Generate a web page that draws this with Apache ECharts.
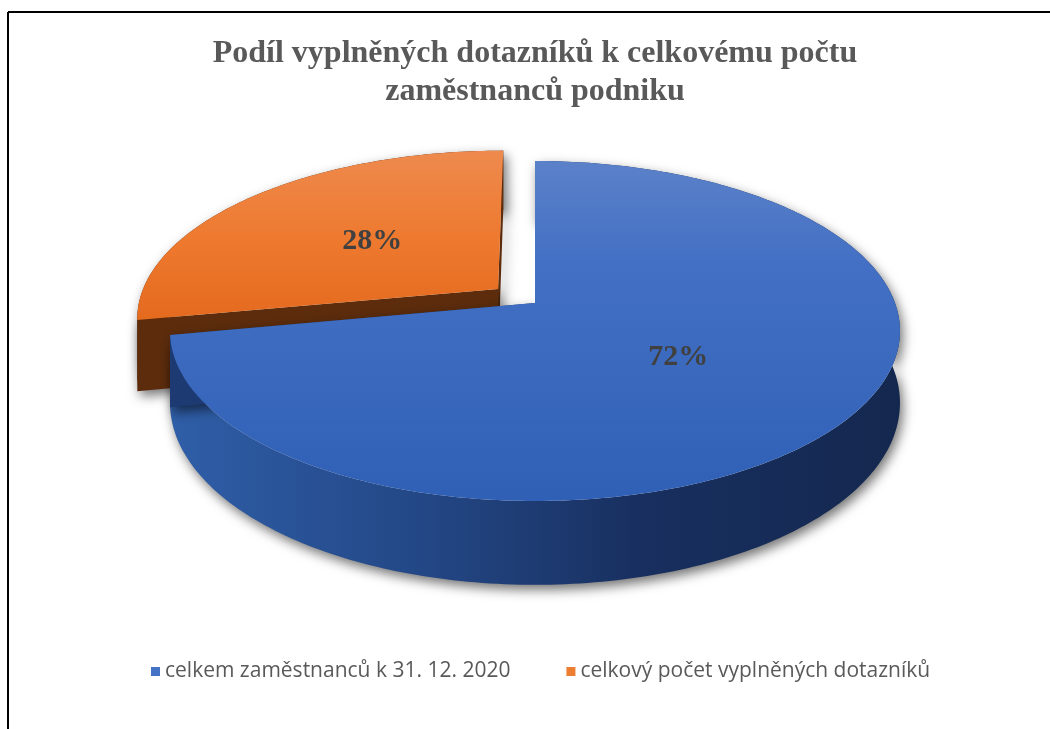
<!DOCTYPE html>
<html>
<head>
<meta charset="utf-8">
<script src="https://cdn.jsdelivr.net/npm/echarts@6/dist/echarts.min.js"></script>
<style>
  html, body { margin: 0; padding: 0; background: #ffffff; }
  #chart { width: 1050px; height: 729px; }
</style>
</head>
<body>
<div id="chart"></div>
<script>
// Categories and their shares (percent of the whole)
const categories = ['celkem zaměstnanců k 31. 12. 2020', 'celkový počet vyplněných dotazníků'];
const shares = [72, 28];
const titleLines = ['Podíl vyplněných dotazníků k celkovému počtu', 'zaměstnanců podniku'];

// Perspective view of the pie disc (unit circle on a tilted plane)
const VIEW = { cx: 535, cy: 303, a: 360, b: 165.4, k: 0.1647, h: 70 };
// How far each slice is pulled out of the pie (in disc radii)
const EXPLODE = [0, 0.135];

const PALETTE = [
  {
    legend: '#4472c4',
    top: [[0, '#5b81c9'], [0.3, '#4370c4'], [1, '#2f60b6']],
    wall: [[0, '#2f5ea8'], [0.35, '#234785'], [0.65, '#182f5f'], [1, '#14284f']],
    cut: '#1d3b72'
  },
  {
    legend: '#ed7d31',
    top: [[0, '#ee8a4e'], [0.5, '#ee7a30'], [1, '#e46a1e']],
    wall: [[0, '#5c2c0c'], [1, '#5c2c0c']],
    cut: '#5c2c0c'
  }
];

const total = shares.reduce((s, v) => s + v, 0);
const starts = shares.map((v, i) => shares.slice(0, i).reduce((s, x) => s + x, 0));

function project(u, v, drop) {
  const d = 1 + VIEW.k * v;
  return [VIEW.cx + VIEW.a * u / d, VIEW.cy + (-VIEW.b * v + drop) / d];
}

function grad(stops, horizontal) {
  return new echarts.graphic.LinearGradient(0, 0, horizontal ? 1 : 0, horizontal ? 0 : 1,
    stops.map(s => ({ offset: s[0], color: s[1] })));
}

const shadow = { shadowBlur: 12, shadowColor: 'rgba(0,0,0,0.55)', shadowOffsetX: 3, shadowOffsetY: 5 };

function renderSlice(params, api) {
  const idx = params.seriesIndex;
  const pal = PALETTE[idx];
  const value = api.value(0);
  const start = api.value(1);
  const t1 = start / total * 360;
  const t2 = (start + value) / total * 360;
  const mid = (t1 + t2) / 2 * Math.PI / 180;
  const ex = EXPLODE[idx];
  const ou = ex * Math.sin(mid), ov = ex * Math.cos(mid);
  const rim = (deg, drop) => {
    const r = deg * Math.PI / 180;
    return project(ou + Math.sin(r), ov + Math.cos(r), drop);
  };
  const arcTop = [], arcBot = [];
  for (let d = t1; d < t2; d += 1) { arcTop.push(rim(d, 0)); arcBot.push(rim(d, VIEW.h)); }
  arcTop.push(rim(t2, 0)); arcBot.push(rim(t2, VIEW.h));
  const apexTop = project(ou, ov, 0);
  const apexBot = project(ou, ov, VIEW.h);
  const n = arcTop.length - 1;

  const lr = 0.49;
  const labelPos = project(ou + lr * Math.sin(mid), ov + lr * Math.cos(mid), 0);

  return {
    type: 'group',
    children: [
      { type: 'polygon', shape: { points: arcTop.concat(arcBot.slice().reverse()) },
        style: Object.assign({ fill: grad(pal.wall, true) }, shadow) },
      { type: 'polygon', shape: { points: [apexTop, arcTop[n], arcBot[n], apexBot] },
        style: Object.assign({ fill: pal.cut }, shadow) },
      { type: 'polygon', shape: { points: [apexTop, arcTop[0], arcBot[0], apexBot] },
        style: Object.assign({ fill: pal.cut }, shadow) },
      { type: 'polygon', shape: { points: [apexTop].concat(arcTop) },
        style: { fill: grad(pal.top, false) } },
      { type: 'text', x: labelPos[0], y: labelPos[1],
        style: { text: Math.round(value / total * 100) + '%', align: 'center', verticalAlign: 'middle',
          textAlign: 'center', textVerticalAlign: 'middle',
          font: 'bold 30px "Liberation Serif", "Times New Roman", serif', fill: '#404040' } }
    ]
  };
}

const chart = echarts.init(document.getElementById('chart'), null, { renderer: 'canvas' });

chart.setOption({
  animation: false,
  backgroundColor: '#ffffff',
  title: {
    text: titleLines.join('\n'),
    left: 530,
    top: 30,
    textAlign: 'center',
    textStyle: {
      fontFamily: '"Liberation Serif", "Times New Roman", serif',
      fontWeight: 'bold',
      fontSize: 32,
      lineHeight: 38,
      color: '#595959'
    }
  },
  legend: {
    data: categories,
    left: 146,
    top: 656,
    icon: 'rect',
    itemWidth: 9,
    itemHeight: 9,
    itemGap: 56,
    textStyle: { fontFamily: '"Open Sans", "Noto Sans", sans-serif', fontSize: 21, color: '#595959' }
  },
  graphic: [
    { type: 'line', shape: { x1: 8, y1: 12, x2: 1050, y2: 12 }, style: { stroke: '#000', lineWidth: 2 } },
    { type: 'line', shape: { x1: 8, y1: 12, x2: 8, y2: 729 }, style: { stroke: '#000', lineWidth: 2 } }
  ],
  series: categories.map((name, i) => ({
    type: 'custom',
    name: name,
    coordinateSystem: 'none',
    z: 2 + (categories.length - i),
    itemStyle: { color: PALETTE[i].legend },
    renderItem: renderSlice,
    data: [[shares[i], starts[i]]]
  }))
});
</script>
</body>
</html>
